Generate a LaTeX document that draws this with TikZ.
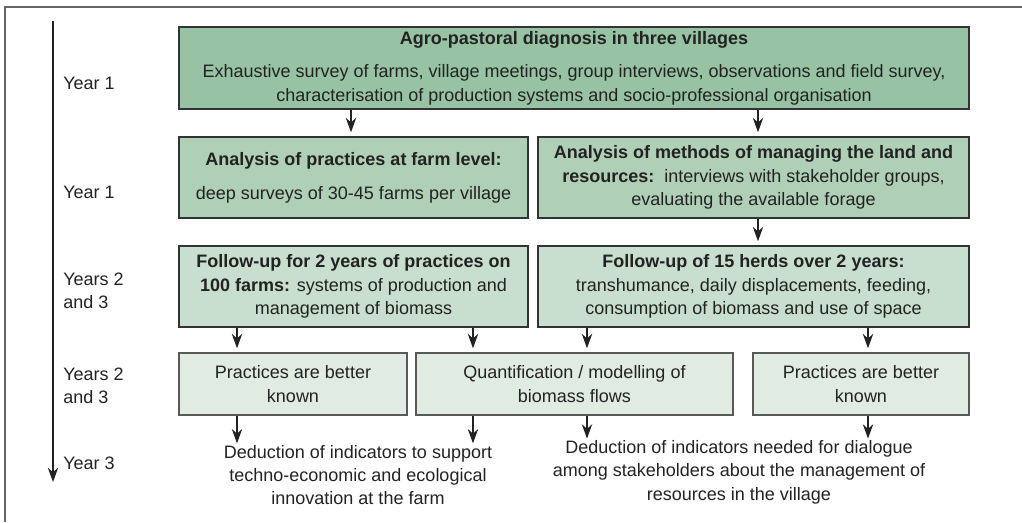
\documentclass[tikz,border=0pt]{standalone}
\usepackage{fontspec}
\setmainfont{Liberation Sans}
\usetikzlibrary{arrows.meta}
\definecolor{greenA}{HTML}{97C3A4}
\definecolor{greenB}{HTML}{B0CFB7}
\definecolor{greenC}{HTML}{C8DECE}
\definecolor{greenD}{HTML}{E0ECE2}
\definecolor{txt}{HTML}{222222}

\begin{document}
\begin{tikzpicture}[x=0.025cm,y=-0.025cm,font=\fontsize{12.8}{16.6}\selectfont,text=txt,
  box/.style 2 args={draw=black!80,line width=0.8pt,align=center,inner sep=0pt,
    minimum width=#1*0.025cm,minimum height=#2*0.025cm},
  arr/.style={-{Stealth[length=0.36cm,width=0.26cm]},line width=0.8pt,draw=txt},
  year/.style={anchor=west,inner sep=0pt,align=left}]
                \useasboundingbox (0,0) rectangle (1022,522);
                \draw[black!60,line width=1.2pt] (5,522) -- (5,7) -- (1022,7);
                % time line
                \coordinate (tTop) at (53,21);
                \coordinate (tBot) at (53,482);
                \draw[arr] (tTop) -- (tBot);
                \node[year] (y1) at (63,83) {Year 1};
                \node[year] (y2) at (63,192) {Year 1};
                \node[year] (y3) at (63,291) {Years 2\\and 3};
                \node[year] (y4) at (63,386) {Years 2\\and 3};
                \node[year] (y5) at (63,463) {Year 3};
                % boxes
                \node[box={790}{82},fill=greenA] (diag) at (574,68) {\textbf{Agro-pastoral diagnosis in three villages}\\[7.5pt]Exhaustive survey of farms, village meetings, group interviews, observations and field survey,\\characterisation of production systems and socio-professional organisation};
                \node[box={349}{81},fill=greenB] (farmA) at (353.5,177.5) {\textbf{Analysis of practices at farm level:}\\[7.5pt]deep surveys of 30-45 farms per village};
                \node[box={431}{81},fill=greenB] (landA) at (753.5,177.5) {\textbf{Analysis of methods of managing the land and}\\\textbf{resources:}\ \ interviews with stakeholder groups,\\evaluating the available forage};
                \node[box={349}{81},fill=greenC] (farmF) at (353.5,286.5) {\textbf{Follow-up for 2 years of practices on}\\\textbf{100 farms:} systems of production and\\management of biomass};
                \node[box={431}{81},fill=greenC] (herdF) at (753.5,286.5) {\textbf{Follow-up of 15 herds over 2 years:}\\transhumance, daily displacements, feeding,\\consumption of biomass and use of space};
                \node[box={228}{62},fill=greenD,draw=black!65] (pracL) at (293,384) {Practices are better\\known};
                \node[box={317}{62},fill=greenD,draw=black!65] (quant) at (574.5,384) {Quantification / modelling of\\biomass flows};
                \node[box={216}{62},fill=greenD,draw=black!65] (pracR) at (861,384) {Practices are better\\known};
                \node[align=center,inner sep=0pt] (dedL) at (358,475) {Deduction of indicators to support\\techno-economic and ecological\\innovation at the farm};
                \node[align=center,inner sep=0pt] (dedR) at (739,472) {Deduction of indicators needed for dialogue\\among stakeholders about the management of\\resources in the village};
                % arrow columns
                \coordinate (c1) at (237,0);
                \coordinate (c2) at (473,0);
                \coordinate (c3) at (587,0);
                \coordinate (c4) at (868,0);
                \coordinate (c5) at (351,0);
                \coordinate (c6) at (758,0);
                \draw[arr,shorten >=3pt] (diag.south -| c5) -- (farmA.north -| c5);
                \draw[arr,shorten >=3pt] (diag.south -| c6) -- (landA.north -| c6);
                \draw[arr,shorten >=3pt] (landA.south -| c6) -- (herdF.north -| c6);
                \draw[arr,shorten >=3pt] (farmF.south -| c1) -- (pracL.north -| c1);
                \draw[arr,shorten >=3pt] (farmF.south -| c2) -- (quant.north -| c2);
                \draw[arr,shorten >=3pt] (herdF.south -| c3) -- (quant.north -| c3);
                \draw[arr,shorten >=3pt] (herdF.south -| c4) -- (pracR.north -| c4);
                \draw[arr] (pracL.south -| c1) -- ([yshift=1pt]dedL.north -| c1);
                \draw[arr] (quant.south -| c2) -- ([yshift=1pt]dedL.north -| c2);
                \draw[arr] (quant.south -| c3) -- ([yshift=1pt]dedR.north -| c3);
                \draw[arr] (pracR.south -| c4) -- ([yshift=1pt]dedR.north -| c4);
            \end{tikzpicture}
\end{document}
